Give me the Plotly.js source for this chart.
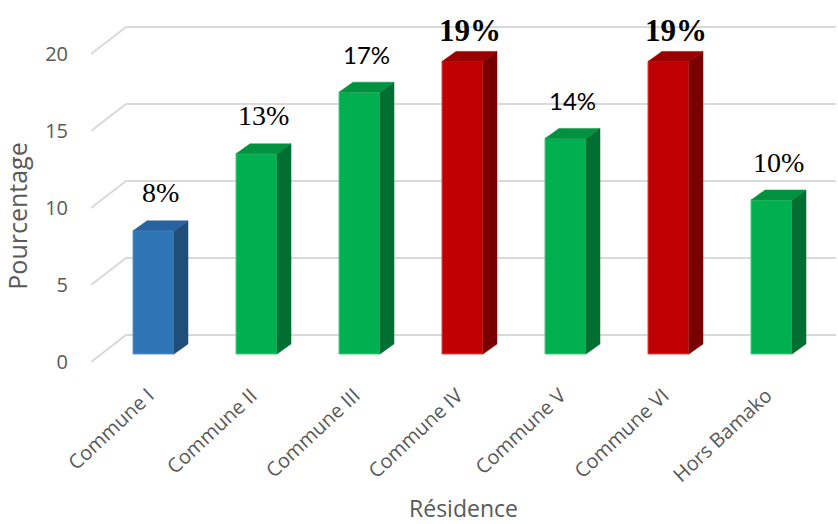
<!DOCTYPE html>
<html>
<head>
<meta charset="utf-8">
<script src="https://cdn.plot.ly/plotly-3.0.1.min.js"></script>
<style>html,body{margin:0;padding:0;background:#fff;}#chart{width:838px;height:524px;}</style>
</head>
<body>
<div id="chart"></div>
<script>
// ---- data ----
const categories = ['Commune I', 'Commune II', 'Commune III', 'Commune IV', 'Commune V', 'Commune VI', 'Hors Bamako'];
const values = [8, 13, 17, 19, 14, 19, 10];
const valueLabels = ['8%', '13%', '17%', '19%', '14%', '19%', '10%'];
const yTicks = [0, 5, 10, 15, 20];
const yTickLabels = ['0', '5', '10', '15', '20'];
// label typeface per bar (style)
const labelStyle = ['serif', 'serif', 'sans', 'bold', 'sans', 'bold', 'serif'];

// ---- geometry / style ----
const W = 838, H = 524;
const mL = 91, mR = 2, mT = 18, mB = 110;
const pxPerCat = 103, pxPerUnit = 15.4;
const cat0px = 153.5;      // centre of first bar (page px)
const zeroPx = 354;        // bar base (page px)
const axisPx = 362;        // front edge of floor (page px)
const plotW = W - mL - mR, plotH = H - mT - mB;
const xmin = (mL - cat0px) / pxPerCat, xmax = xmin + plotW / pxPerCat;
const ymin = (zeroPx - (H - mB)) / pxPerUnit, ymax = (zeroPx - mT) / pxPerUnit;
const frontOff = (zeroPx - axisPx) / pxPerUnit;   // front edge offset (units, negative)
const backOff = (zeroPx - 335) / pxPerUnit;       // back wall offset (units)
const xBack = (126 - cat0px) / pxPerCat;
const barW = 41 / pxPerCat;
const dX = 14 / pxPerCat, dY = 10 / pxPerUnit;

const palette = {
  blue:  {front: '#2E75B6', top: '#2863A0', side: '#1F4E79', edge: '#5B93C8'},
  green: {front: '#00B050', top: '#00923F', side: '#006F31', edge: '#4CC97F'},
  red:   {front: '#C00000', top: '#9A0000', side: '#780000', edge: '#D64A4A'}
};
const vmax = Math.max(...values), vmin = Math.min(...values);
const colorKey = values.map(v => v === vmax ? 'red' : (v === vmin ? 'blue' : 'green'));

const traces = [];
traces.push({
  type: 'bar',
  x: values.map((_, i) => i),
  y: values,
  width: barW,
  marker: {color: colorKey.map(k => palette[k].front), line: {color: colorKey.map(k => palette[k].edge), width: 1}},
  hoverinfo: 'x+y',
  showlegend: false
});
values.forEach((v, i) => {
  const c = palette[colorKey[i]];
  const r = i + barW / 2, l = i - barW / 2;
  traces.push({
    type: 'scatter', mode: 'lines', fill: 'toself', fillcolor: c.side,
    x: [r, r + dX, r + dX, r, r], y: [0, dY, v + dY, v, 0],
    line: {color: c.side, width: 0.5}, hoverinfo: 'skip', showlegend: false
  });
  traces.push({
    type: 'scatter', mode: 'lines', fill: 'toself', fillcolor: c.top,
    x: [l, l + dX, r + dX, r, l], y: [v, v + dY, v + dY, v, v],
    line: {color: c.top, width: 0.5}, hoverinfo: 'skip', showlegend: false
  });
});

const shapes = yTicks.map(t => ({
  type: 'path', xref: 'x', yref: 'y', layer: 'below',
  path: 'M ' + xmin + ',' + (t + frontOff) + ' L ' + xBack + ',' + (t + backOff) + ' L ' + xmax + ',' + (t + backOff),
  line: {color: '#D9D9D9', width: 2}
}));

const fonts = {
  serif: {family: 'Liberation Serif, Times New Roman, serif', size: 28, color: '#000000'},
  sans:  {family: 'Lato, Carlito, Calibri, sans-serif', size: 24, color: '#000000'},
  bold:  {family: 'Liberation Serif, Times New Roman, serif', size: 31, color: '#000000', weight: 'bold'}
};
const annotations = values.map((v, i) => ({
  x: i + dX / 2, y: v, xref: 'x', yref: 'y',
  text: labelStyle[i] === 'bold' ? '<b>' + valueLabels[i] + '</b>' : valueLabels[i],
  showarrow: false, yanchor: 'middle', xanchor: 'center',
  yshift: labelStyle[i] === 'bold' ? 31 : 38,
  font: fonts[labelStyle[i]]
}));

const layout = {
  width: W, height: H,
  margin: {l: mL, r: mR, t: mT, b: mB, pad: 0},
  paper_bgcolor: '#ffffff', plot_bgcolor: 'rgba(0,0,0,0)',
  xaxis: {
    type: 'linear', range: [xmin, xmax], anchor: 'free', position: (H - mB - axisPx) / plotH,
    tickmode: 'array', tickvals: categories.map((_, i) => i), ticktext: categories,
    tickangle: -43, tickfont: {family: 'Open Sans, sans-serif', size: 20, color: '#595959'},
    ticklabelstandoff: 17, ticklabelshift: -5,
    showgrid: false, zeroline: false, showline: false, ticks: '',
    title: {text: 'Résidence', font: {family: 'Open Sans, sans-serif', size: 23, color: '#595959'}, standoff: 54}
  },
  yaxis: {
    range: [ymin, ymax], tickmode: 'array', tickvals: yTicks.map(t => t + frontOff), ticktext: yTickLabels,
    tickfont: {family: 'Open Sans, sans-serif', size: 20, color: '#595959'},
    showgrid: false, zeroline: false, showline: false, ticks: '', ticklabelstandoff: 22,
    title: {text: 'Pourcentage', font: {family: 'Open Sans, sans-serif', size: 25, color: '#595959'}, standoff: 10}
  },
  shapes: shapes,
  annotations: annotations,
  bargap: 0
};
Plotly.newPlot('chart', traces, layout, {displayModeBar: false, staticPlot: true});
</script>
</body>
</html>
